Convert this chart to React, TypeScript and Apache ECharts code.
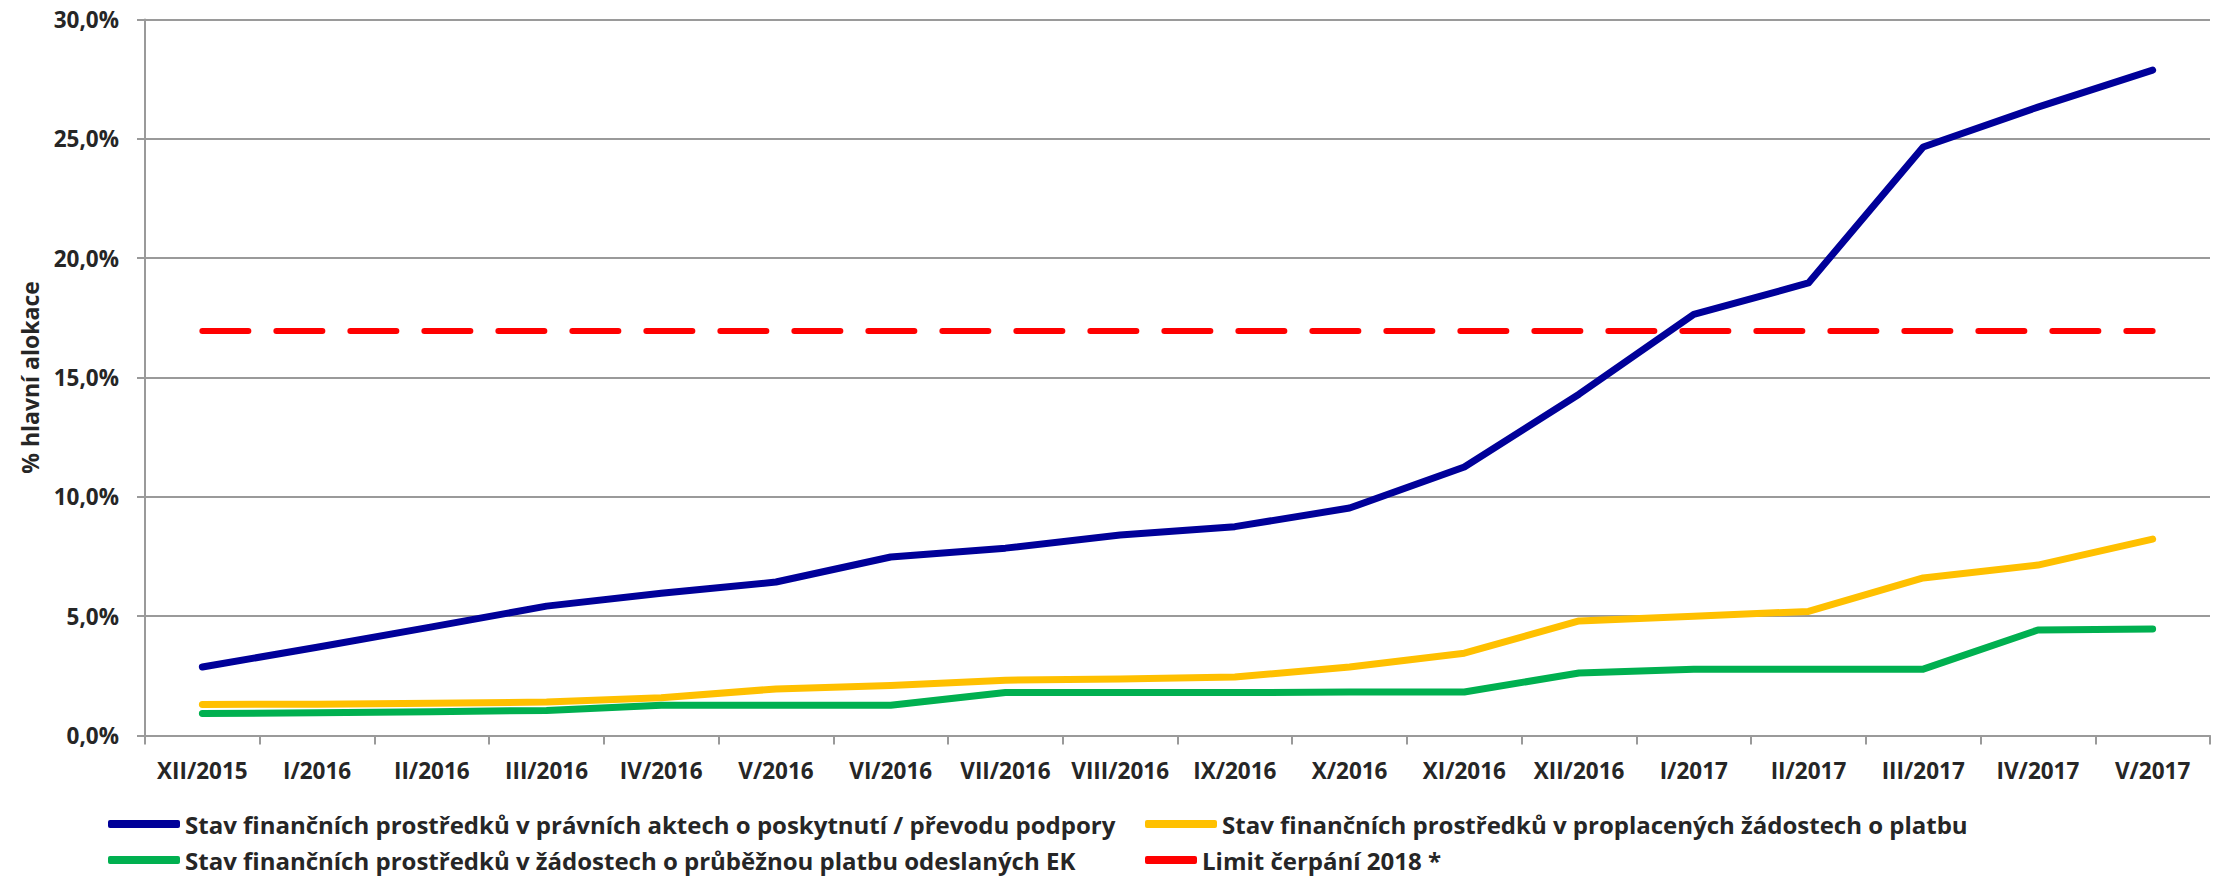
import React, { useEffect, useRef } from "react";
import * as echarts from "echarts";

const categories = [
  "XII/2015", "I/2016", "II/2016", "III/2016", "IV/2016", "V/2016", "VI/2016", "VII/2016", "VIII/2016",
  "IX/2016", "X/2016", "XI/2016", "XII/2016", "I/2017", "II/2017", "III/2017", "IV/2017", "V/2017",
];

const pravniAkty = [2.87, 3.7, 4.55, 5.42, 5.96, 6.43, 7.48, 7.85, 8.4, 8.75, 9.53, 11.25, 14.3, 17.64, 18.96, 24.66, 26.33, 27.88];
const proplaceneZadosti = [1.3, 1.31, 1.35, 1.4, 1.58, 1.95, 2.1, 2.32, 2.37, 2.45, 2.87, 3.45, 4.8, 5.0, 5.2, 6.6, 7.14, 8.23];
const prubezneZadostiEK = [0.92, 0.95, 1.0, 1.05, 1.27, 1.27, 1.27, 1.8, 1.8, 1.8, 1.82, 1.82, 2.62, 2.78, 2.78, 2.78, 4.42, 4.46];
const limitCerpani = [16.95, 16.95, 16.95, 16.95, 16.95, 16.95, 16.95, 16.95, 16.95, 16.95, 16.95, 16.95, 16.95, 16.95, 16.95, 16.95, 16.95, 16.95];

const yTicks = [0, 5, 10, 15, 20, 25, 30];

const nameBlue = "Stav finančních prostředků v právních aktech o poskytnutí / převodu podpory";
const nameYellow = "Stav finančních prostředků v proplacených žádostech o platbu";
const nameGreen = "Stav finančních prostředků v žádostech o průběžnou platbu odeslaných EK";
const nameRed = "Limit čerpání 2018 *";
const yTitle = "% hlavní alokace";

const FONT = "'Open Sans', 'Noto Sans', sans-serif";
const TEXT = "#262626";
const GRID = "#9a9a9a";

export default function App() {
  const ref = useRef<HTMLDivElement>(null);
  useEffect(() => {
    document.body.style.margin = "0";
    if (!ref.current) return;
    const chart = echarts.init(ref.current, null, { renderer: "svg" });
    const legendText = { fontFamily: FONT, fontWeight: "bold", fontSize: 24, color: TEXT };
    const legendBase = { padding: 0, icon: "roundRect", itemHeight: 8, itemWidth: 72, textStyle: legendText };
    chart.setOption({
      animation: false,
      backgroundColor: "#ffffff",
      textStyle: { fontFamily: FONT },
      grid: { left: 145, right: 17, top: 19.5, bottom: 143.5, containLabel: false },
      legend: [
        { ...legendBase, data: [nameBlue], left: 108, top: 812 },
        { ...legendBase, data: [nameYellow], left: 1145, top: 812 },
        { ...legendBase, data: [nameGreen], left: 108, top: 848 },
        { ...legendBase, data: [nameRed], left: 1145, top: 848, itemWidth: 52 },
      ],
      xAxis: {
        type: "category",
        data: categories,
        boundaryGap: true,
        axisLine: { show: true, lineStyle: { color: GRID, width: 2 } },
        axisTick: { show: true, length: 9, interval: 0, lineStyle: { color: GRID, width: 2 } },
        axisLabel: {
          interval: 0,
          margin: 23,
          fontFamily: FONT,
          fontWeight: "bold",
          fontSize: 22.5,
          color: TEXT,
        },
        splitLine: { show: false },
      },
      yAxis: {
        type: "value",
        min: yTicks[0],
        max: yTicks[yTicks.length - 1],
        interval: 5,
        name: yTitle,
        nameLocation: "middle",
        nameRotate: 90,
        nameGap: 104,
        nameTextStyle: { fontFamily: FONT, fontWeight: "bold", fontSize: 23, color: TEXT },
        axisLine: { show: true, lineStyle: { color: GRID, width: 2 } },
        axisTick: { show: true, length: 8, lineStyle: { color: GRID, width: 2 } },
        axisLabel: {
          margin: 26,
          fontFamily: FONT,
          fontWeight: "bold",
          fontSize: 22.5,
          color: TEXT,
          formatter: (v: number) => v.toFixed(1).replace(".", ",") + "%",
        },
        splitLine: { show: true, lineStyle: { color: GRID, width: 2 } },
      },
      series: [
        {
          name: nameRed,
          type: "line",
          data: limitCerpani,
          symbol: "none",
          color: "#ff0000",
          lineStyle: { color: "#ff0000", width: 6, type: [46, 28], cap: "round" },
        },
        {
          name: nameYellow,
          type: "line",
          data: proplaceneZadosti,
          symbol: "none",
          color: "#ffc000",
          lineStyle: { color: "#ffc000", width: 7, cap: "round", join: "round" },
        },
        {
          name: nameGreen,
          type: "line",
          data: prubezneZadostiEK,
          symbol: "none",
          color: "#00b050",
          lineStyle: { color: "#00b050", width: 7, cap: "round", join: "round" },
        },
        {
          name: nameBlue,
          type: "line",
          data: pravniAkty,
          symbol: "none",
          color: "#000099",
          lineStyle: { color: "#000099", width: 7, cap: "round", join: "round" },
        },
      ],
    });
    return () => chart.dispose();
  }, []);
  return <div ref={ref} style={{ width: 2227, height: 879 }} />;
}
